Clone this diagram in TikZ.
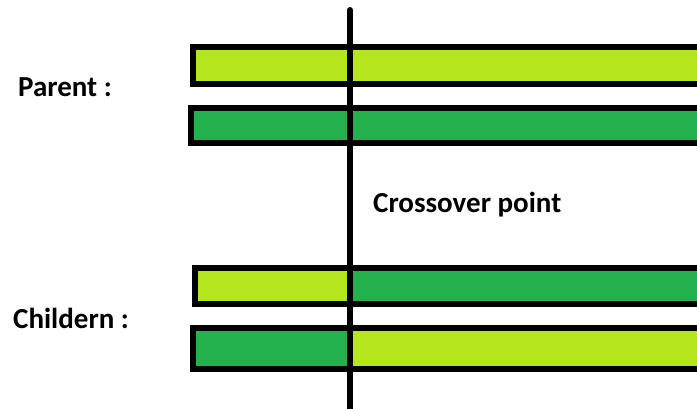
\documentclass[tikz,border=0pt]{standalone}
\usepackage{fontspec}
\setmainfont{Carlito}
\definecolor{lime}{HTML}{B5E61D}
\definecolor{grass}{HTML}{22B14C}
\begin{document}
\begin{tikzpicture}[x=1pt, y=-1pt,
  bar/.style={draw=black, line width=5.5pt},
  lbl/.style={font=\fontsize{29}{30}\selectfont\bfseries, anchor=base west, inner sep=0pt}]
  \useasboundingbox (0,0) rectangle (697,409);
  \clip (0,0) rectangle (697,409);

  % genitori
  \filldraw[bar, fill=lime] (193,47) rectangle (720,84);
  \filldraw[bar, fill=grass] (191,108) rectangle (720,143);

  % figli (metà sinistra e metà destra scambiate)
  \fill[lime] (195,268) rectangle (350,304);
  \fill[grass] (350,268) rectangle (720,304);
  \draw[bar] (195,268) rectangle (720,304);
  \fill[grass] (193,328) rectangle (350,369);
  \fill[lime] (350,328) rectangle (720,369);
  \draw[bar] (193,328) rectangle (720,369);

  % punto di crossover
  \coordinate (cut top) at (350,10);
  \coordinate (cut bottom) at (350,420);
  \draw[line width=6pt, line cap=round] (cut top) -- (cut bottom);

  % etichette
  \node[lbl] (parent) at (18,97) {Parent :};
  \node[lbl] (children) at (13,328) {Childern :};
  \node[lbl] (point) at (373,213) {Crossover point};
\end{tikzpicture}
\end{document}
